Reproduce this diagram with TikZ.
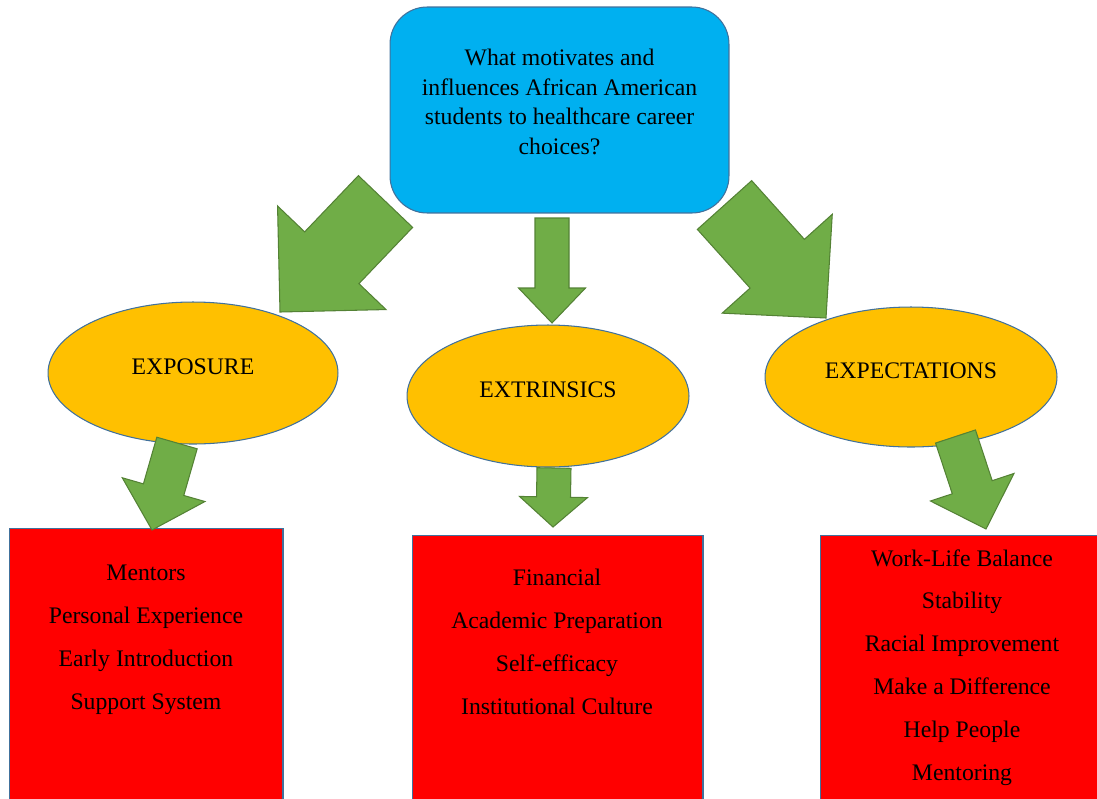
\documentclass[tikz,border=0pt]{standalone}
\usepackage{fontspec}
\setmainfont{Liberation Serif}
\usetikzlibrary{calc,shapes.geometric}
\definecolor{qblue}{HTML}{00B0F0}
\definecolor{edge}{HTML}{41719C}
\definecolor{gold}{HTML}{FFC000}
\definecolor{leaf}{HTML}{70AD47}
\definecolor{leafedge}{HTML}{548235}
\definecolor{listred}{HTML}{FF0000}
\newcommand\fatarrow[5]{%
  \coordinate (neck) at ($(#2)!#5!(#1)$);
  \draw[greenarrow] ($(#1)!#3!90:(#2)$) -- ($(neck)!#3!90:(#2)$) -- ($(neck)!#4!90:(#2)$) -- (#2)
    -- ($(neck)!#4!-90:(#2)$) -- ($(neck)!#3!-90:(#2)$) -- ($(#1)!#3!-90:(#2)$) -- cycle;}

\begin{document}
\begin{tikzpicture}[x=0.02cm,y=-0.02cm,
      every node/.style={font=\fontsize{13.5}{16.8}\selectfont,inner sep=0pt},
      qbox/.style={draw=edge,line width=.6pt,fill=qblue,rounded corners=.74cm,minimum width=6.78cm,minimum height=4.12cm},
      theme/.style={ellipse,draw=edge,line width=.6pt,fill=gold,text height=9pt,text depth=7pt},
      listbox/.style={draw=edge,line width=.6pt,fill=listred,anchor=north,minimum height=6cm},
      listtext/.style={anchor=north,align=center,font=\fontsize{13.5}{24.4}\selectfont},
      greenarrow/.style={draw=leafedge,line width=.6pt,fill=leaf,line join=miter}]
      \useasboundingbox (0,0) rectangle (1097,798);
      \clip (0,0) rectangle (1097,798);
      \node[qbox] (question) at (559.5,110) {};
      \node[align=center,anchor=north] (questiontext) at (559.5,49) {What motivates and\\influences African American\\students to healthcare career\\choices?};
      \node[theme,minimum width=5.8cm,minimum height=2.84cm] (exposure) at (193,373) {EXPOSURE};
      \node[theme,minimum width=5.64cm,minimum height=2.84cm] (extrinsics) at (548,396) {EXTRINSICS};
      \node[theme,minimum width=5.84cm,minimum height=2.8cm] (expectations) at (911,377) {EXPECTATIONS};
      \node[listbox,minimum width=5.48cm] (exposurebox) at (146,528) {};
      \node[listbox,minimum width=5.82cm] (extrinsicsbox) at (557.5,535) {};
      \node[listbox,minimum width=5.68cm] (expectationsbox) at (962,535) {};
      \node[listtext] (exposurelist) at (146,565) {Mentors\\Personal Experience\\Early Introduction\\Support System};
      \node[listtext] (extrinsicslist) at (557,569) {Financial\\Academic Preparation\\Self-efficacy\\Institutional Culture};
      \node[listtext] (expectationslist) at (962,549) {Work-Life Balance\\Stability\\Racial Improvement\\Make a Difference\\Help People\\Mentoring};
      \coordinate (qleft) at (385.5,201.5); \coordinate (exposuretop) at (280,312);
      \coordinate (qdown) at (552,218); \coordinate (extrinsicstop) at (552,323);
      \coordinate (qright) at (724.5,205); \coordinate (expectationstop) at (826,318);
      \coordinate (exposurefoot) at (177,443); \coordinate (exposureboxtop) at (152,530);
      \coordinate (extrinsicsfoot) at (554,468); \coordinate (extrinsicsboxtop) at (553,527);
      \coordinate (expectationsfoot) at (955.5,436.5); \coordinate (expectationsboxtop) at (986,529);
      \fatarrow{qleft}{exposuretop}{.75cm}{1.5cm}{1.5cm}
      \fatarrow{qdown}{extrinsicstop}{.34cm}{.67cm}{.7cm}
      \fatarrow{qright}{expectationstop}{.73cm}{1.48cm}{1.46cm}
      \fatarrow{exposurefoot}{exposureboxtop}{.42cm}{.86cm}{.84cm}
      \fatarrow{extrinsicsfoot}{extrinsicsboxtop}{.34cm}{.68cm}{.6cm}
      \fatarrow{expectationsfoot}{expectationsboxtop}{.42cm}{.88cm}{.88cm}
    \end{tikzpicture}
\end{document}
